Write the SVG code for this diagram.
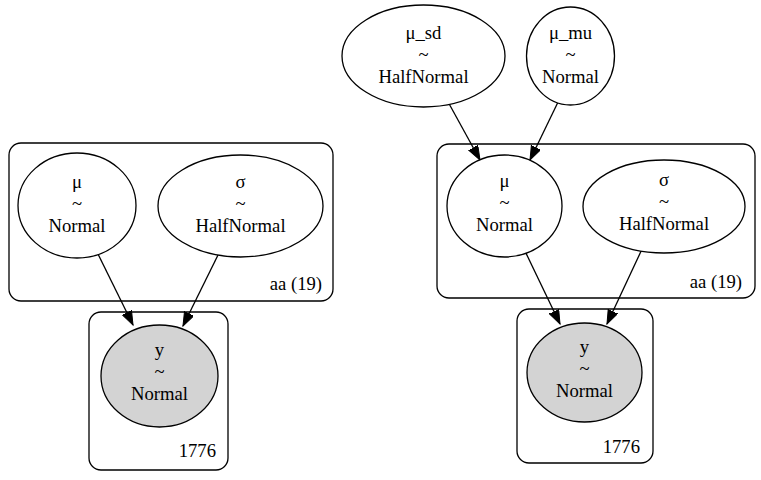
<svg xmlns="http://www.w3.org/2000/svg" width="761" height="480" viewBox="0 0 761 480">
<style>
text{font-family:"Liberation Serif","Times New Roman",serif;font-size:18.67px;fill:#000;text-anchor:middle}
.lab{text-anchor:end}
.cl{fill:none;stroke:#000;stroke-width:1.3}
.nd{fill:#fff;stroke:#000;stroke-width:1.3}
.obs{fill:#d3d3d3;stroke:#000;stroke-width:1.3}
.ed{stroke:#000;stroke-width:1.3;fill:none;marker-end:url(#ah)}
</style>
<defs>
<marker id="ah" markerUnits="userSpaceOnUse" markerWidth="16" markerHeight="12" refX="14" refY="5.2" orient="auto">
<path d="M0,0 L14,5.2 L0,10.4 z" fill="#000" stroke="#000" stroke-width="1"/>
</marker>
</defs>
<rect width="761" height="480" fill="#fff"/>
<g id="clusters">
<g id="cluster_aa_left"><rect class="cl" x="9" y="143" width="324" height="158" rx="12"/><text class="lab" x="322" y="290">aa (19)</text></g>
<g id="cluster_1776_left"><rect class="cl" x="89" y="312" width="139" height="158" rx="12"/><text class="lab" x="216" y="457">1776</text></g>
<g id="cluster_aa_right"><rect class="cl" x="437" y="144" width="318" height="154" rx="12"/><text class="lab" x="742" y="288">aa (19)</text></g>
<g id="cluster_1776_right"><rect class="cl" x="517" y="309" width="136" height="154" rx="12"/><text class="lab" x="640" y="453">1776</text></g>
</g>
<g id="connectors">
<line class="ed" x1="97" y1="252" x2="133" y2="325"/>
<line class="ed" x1="220" y1="251" x2="183" y2="326"/>
<line class="ed" x1="447" y1="100" x2="480" y2="160"/>
<line class="ed" x1="560" y1="98" x2="530" y2="160"/>
<line class="ed" x1="524" y1="249" x2="560" y2="324"/>
<line class="ed" x1="643" y1="247" x2="607" y2="324"/>
</g>
<g id="mu_left"><ellipse class="nd" cx="77" cy="205.5" rx="59" ry="52.5"/><text x="77" y="188">μ</text><text x="77" y="210">~</text><text x="77" y="232">Normal</text></g>
<g id="sigma_left"><ellipse class="nd" cx="240.5" cy="206" rx="82.5" ry="51"/><text x="240.5" y="188">σ</text><text x="240.5" y="210">~</text><text x="240.5" y="232">HalfNormal</text></g>
<g id="y_left"><ellipse class="obs" cx="159.5" cy="376" rx="58.5" ry="51"/><text x="159.5" y="356">y</text><text x="159.5" y="378">~</text><text x="159.5" y="400">Normal</text></g>
<g id="mu_sd"><ellipse class="nd" cx="423.5" cy="56" rx="81.5" ry="51"/><text x="423.5" y="39">μ_sd</text><text x="423.5" y="61">~</text><text x="423.5" y="83">HalfNormal</text></g>
<g id="mu_mu"><ellipse class="nd" cx="570.5" cy="56" rx="44" ry="49"/><text x="570.5" y="39">μ_mu</text><text x="570.5" y="61">~</text><text x="570.5" y="83">Normal</text></g>
<g id="mu_right"><ellipse class="nd" cx="504.5" cy="206" rx="57.5" ry="51"/><text x="504.5" y="187">μ</text><text x="504.5" y="209">~</text><text x="504.5" y="231">Normal</text></g>
<g id="sigma_right"><ellipse class="nd" cx="664" cy="206.5" rx="81" ry="46.5"/><text x="664" y="186">σ</text><text x="664" y="208">~</text><text x="664" y="230">HalfNormal</text></g>
<g id="y_right"><ellipse class="obs" cx="584.5" cy="372.5" rx="57.5" ry="49.5"/><text x="584.5" y="353">y</text><text x="584.5" y="375">~</text><text x="584.5" y="397">Normal</text></g>
</svg>
